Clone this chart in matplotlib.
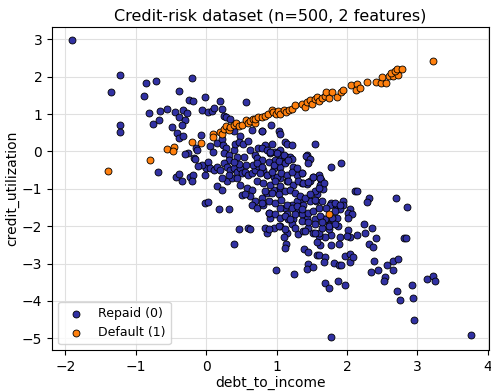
import matplotlib
matplotlib.use("Agg")
import matplotlib.pyplot as plt
import numpy as np

# (debt_to_income, credit_utilization)
repaid_pts = [
    # far left / top
    (-1.91, 2.97), (-1.22, 2.05), (-1.35, 1.59), (-0.86, 1.83), (-0.71, 1.88),
    (-0.89, 1.48), (-0.20, 1.96), (-0.81, 1.02), (-0.66, 1.08), (-0.55, 1.13),
    (-0.75, 0.74), (-0.67, 0.83), (-1.22, 0.72), (-1.22, 0.51), (0.80, 0.55),
    (-0.49, 0.65), (0.27, 0.61), (0.39, 0.56), (0.65, 0.58), (-0.68, -0.56),
    # upper middle
    (-0.38, 1.62), (-0.25, 1.38), (-0.18, 1.36), (-0.02, 1.45), (0.19, 1.36),
    (0.57, 1.31), (-0.44, 1.05), (-0.33, 1.11), (-0.27, 1.02), (-0.06, 1.11),
    (0.02, 1.05), (0.08, 1.09), (0.11, 1.16), (0.22, 1.14), (0.25, 0.96),
    (0.28, 0.92), (0.34, 0.87), (-0.38, 0.92), (-0.30, 0.85), (-0.35, 0.70),
    (-0.41, 0.49), (-0.38, 0.37), (-0.33, 0.41), (-0.08, 0.43), (-0.26, -0.05),
    (-0.14, 0.08), (-0.17, -0.18), (0.06, 0.14), (0.16, 0.23), (0.22, 0.34),
    (0.24, 0.17), (0.28, 0.08), (0.25, -0.05), (0.33, -0.10), (0.39, 0.04),
    (0.41, 0.21), (0.48, 0.41), (0.46, 0.26), (0.53, 0.21), (0.60, 0.28),
    (0.63, 0.04), (0.54, -0.16), (0.44, -0.16), (0.33, -0.23), (0.70, -0.10),
    (0.73, 0.08),
    (0.92, 0.70), (0.79, 0.56), (1.03, 0.56), (1.05, 0.48), (0.93, 0.21),
    (0.84, 0.17), (0.79, 0.08), (0.86, 0.04), (0.91, -0.05), (0.98, -0.01),
    (1.05, 0.04), (1.12, 0.26), (1.15, 0.21), (1.22, 0.17), (1.07, -0.10),
    (1.15, -0.14), (1.17, -0.18), (1.43, -0.10), (1.45, -0.18), (1.54, 0.21),
    (0.72, -0.18), (0.79, -0.23), (0.98, -0.23),
    (-0.30, -0.08), (-0.13, 0.03), (0.10, -0.01), (0.39, -2.48),
    # middle left of the cloud
    (-0.43, -0.67), (-0.38, -0.61), (-0.35, -0.78), (-0.23, -0.67), (-0.19, -0.63),
    (-0.20, -0.80), (-0.01, -0.63), (0.00, -0.45), (-0.06, -0.36), (-0.11, -0.38),
    (-0.16, -0.20), (0.03, -0.27), (0.06, -0.45), (0.11, -0.49), (0.15, -0.41),
    (0.20, -0.49), (0.25, -0.32), (0.29, -0.41), (0.34, -0.49), (0.39, -0.45),
    (0.44, -0.54), (0.48, -0.45), (0.51, -0.58), (0.55, -0.54), (0.60, -0.63),
    (0.65, -0.58), (0.70, -0.49), (0.73, -0.38), (0.67, -0.36), (0.57, -0.36),
    (0.46, -0.34), (0.39, -0.27), (0.15, -0.93), (0.22, -1.02), (0.29, -0.80),
    (0.37, -0.71), (0.44, -0.71), (0.48, -0.89), (0.51, -1.16), (0.58, -0.98),
    (0.65, -1.02), (0.63, -1.20), (0.70, -1.33), (0.65, -1.42), (0.72, -1.51),
    (0.55, -1.14), (-0.01, -1.38), (0.03, -1.35), (0.18, -1.53), (0.33, -1.53),
    (0.46, -2.08), (0.60, -2.04), (0.63, -2.08), (0.22, -0.70), (0.32, -0.63),
    # right part of the cloud and lower tail
    (1.78, -0.41), (1.92, -0.31), (1.42, -0.11), (1.47, -0.19), (1.36, -0.58),
    (1.52, -0.67), (1.61, -0.64), (1.63, -0.76), (1.62, -0.89), (1.66, -1.00),
    (1.57, -1.15), (1.56, -1.33), (1.78, -1.38), (1.83, -1.40), (1.94, -1.33),
    (1.95, -1.44), (1.87, -1.51), (1.90, -1.55), (2.05, -1.55), (2.02, -1.64),
    (2.07, -1.67), (2.01, -1.77), (1.86, -1.77), (1.76, -1.79), (1.67, -1.82),
    (1.55, -1.82), (1.43, -1.77), (2.12, -1.05), (2.15, -1.05), (2.31, -1.24),
    (2.28, -1.35), (2.70, -1.24), (2.86, -1.49), (2.24, -1.93), (2.35, -2.04),
    (2.26, -2.17), (2.14, -2.24), (2.41, -2.32), (2.81, -2.32), (2.84, -2.32),
    (2.02, -2.11), (2.05, -2.30), (1.90, -2.30), (1.78, -2.23), (1.74, -2.08),
    (1.69, -2.30), (1.60, -2.26), (1.62, -2.50), (1.57, -2.43), (1.78, -2.50),
    (1.89, -2.48), (2.32, -2.48), (2.37, -2.55), (1.39, -2.61), (1.45, -2.70),
    (1.57, -2.76), (1.61, -2.76), (1.69, -2.83), (1.68, -2.96), (1.81, -2.99),
    (1.89, -3.03), (1.92, -3.03), (2.04, -2.96), (1.97, -2.79), (2.05, -2.74),
    (2.08, -2.81), (2.38, -2.92), (2.57, -3.03), (2.66, -2.92), (2.72, -2.88),
    (2.66, -3.18), (2.44, -3.17), (2.34, -3.23), (2.54, -3.36), (2.53, -3.47),
    (2.92, -3.58), (3.14, -3.40), (3.23, -3.32), (3.25, -3.47), (2.71, -3.74),
    (2.76, -3.98), (2.94, -3.92), (2.95, -4.51), (3.77, -4.90), (1.77, -4.95),
    (1.69, -3.52), (1.74, -3.64), (1.87, -3.47), (1.97, -3.58), (1.45, -3.01),
    (1.43, -3.14), (1.52, -3.08), (0.99, -3.18), (1.25, -3.27),
    (1.34, -1.29), (1.38, -1.42), (1.31, -1.60), (1.36, -1.66), (1.24, -1.82),
    (1.22, -1.95), (1.15, -2.17), (1.05, -1.99), (0.96, -2.04), (0.86, -2.17),
    (0.84, -2.04), (0.91, -1.77), (0.89, -1.64), (0.81, -1.42), (0.79, -1.24),
    (0.86, -1.11), (0.96, -1.02), (1.05, -0.98), (1.15, -0.80), (1.05, -0.71),
    (0.96, -0.67), (0.86, -0.63), (0.81, -0.49), (0.96, -0.45), (1.05, -0.41),
    (1.12, -0.27), (1.19, -0.14), (1.00, -0.05), (0.91, -0.01), (1.10, -0.10),
    (1.22, -0.19), (1.24, -0.41), (1.29, -0.63), (1.36, -0.85), (1.43, -0.87),
    (1.48, -0.80), (1.55, -1.05), (1.45, -1.24), (1.48, -1.33), (1.29, -1.33),
    (1.22, -1.42), (1.12, -1.51), (1.05, -1.51), (1.15, -1.68), (1.17, -1.82),
    (1.10, -2.30), (1.14, -2.48), (1.12, -2.57), (1.31, -2.21), (1.38, -2.13),
    (1.45, -2.04), (1.52, -2.17), (1.60, -2.17), (1.64, -2.04), (1.74, -1.97),
    (1.88, -1.99), (2.00, -2.26),
    (0.72, -0.32), (0.79, -0.41), (0.89, -0.27), (0.96, -0.36), (1.03, -0.26),
    (1.12, -0.32), (1.17, -0.23), (0.77, -0.58), (0.86, -0.63), (0.93, -0.54),
    (1.00, -0.67), (1.07, -0.58), (1.15, -0.63), (1.22, -0.54), (1.29, -0.45),
    (1.36, -0.58), (1.45, -0.32), (0.72, -0.80), (0.81, -0.85), (0.91, -0.89),
    (0.98, -0.80), (1.05, -0.93), (1.17, -0.80), (1.24, -0.89), (1.31, -0.80),
    (1.38, -0.85), (1.45, -0.82), (1.52, -0.67), (1.62, -0.71), (1.67, -0.85),
    (1.60, -0.98), (0.84, -1.07), (0.93, -1.11), (1.03, -1.15), (1.12, -1.07),
    (1.19, -1.02), (1.26, -1.11), (1.33, -1.20), (1.41, -1.24), (1.48, -1.15),
    (1.55, -1.29), (1.64, -1.33), (1.76, -1.42), (1.83, -1.38), (1.90, -1.42),
    (0.79, -1.38), (0.89, -1.33), (0.98, -1.38), (1.07, -1.29), (1.15, -1.42),
    (1.22, -1.51), (1.29, -1.46), (1.36, -1.55), (1.45, -1.64), (1.52, -1.60),
    (1.60, -1.51), (1.71, -1.51), (1.83, -1.60), (1.79, -1.77), (1.69, -1.82),
    (1.62, -1.73), (0.89, -1.64), (0.98, -1.68), (1.05, -1.77), (1.12, -1.73),
    (1.19, -1.82), (1.26, -1.68), (1.36, -1.86), (1.45, -1.90), (1.55, -1.95),
    (1.64, -1.90), (1.74, -1.99), (1.83, -1.95), (0.89, -2.08), (1.03, -1.99),
    (1.12, -2.08), (1.26, -2.04), (1.41, -2.13), (1.55, -2.17),
]

default_pts = [
    (-1.40, -0.52), (-0.80, -0.22), (-0.55, 0.06), (-0.45, 0.12), (-0.47, 0.01),
    (-0.20, 0.26), (-0.08, 0.23),
    (0.10, 0.48), (0.10, 0.39), (0.20, 0.52), (0.22, 0.46), (0.26, 0.61),
    (0.28, 0.67), (0.32, 0.58), (0.34, 0.65), (0.39, 0.70), (0.43, 0.76),
    (0.46, 0.67), (0.51, 0.72), (0.57, 0.85), (0.59, 0.76), (0.62, 0.81),
    (0.66, 0.87), (0.69, 0.76),
    (0.70, 0.87), (0.74, 0.93), (0.80, 0.92), (0.84, 0.96), (0.88, 0.99),
    (0.93, 1.11), (0.95, 1.05), (0.99, 1.01), (1.02, 1.08), (1.05, 1.01),
    (1.11, 1.10), (1.14, 1.05), (1.18, 1.11), (1.22, 1.14), (1.26, 1.25),
    (1.36, 1.27), (1.40, 1.20), (1.43, 1.32), (1.48, 1.38), (1.51, 1.27),
    (1.54, 1.40), (1.57, 1.45), (1.60, 1.36), (1.64, 1.43), (1.69, 1.49),
    (1.71, 1.58), (1.75, 1.43), (1.79, 1.58), (1.86, 1.46), (1.92, 1.60),
    (1.94, 1.64),
    (2.06, 1.77), (2.14, 1.80), (2.13, 1.64), (2.19, 1.71), (2.28, 1.85),
    (2.41, 1.87), (2.49, 1.82), (2.56, 1.84), (2.50, 1.98), (2.60, 2.01),
    (2.65, 2.01), (2.73, 2.04), (2.62, 2.11), (2.68, 2.15), (2.71, 2.20),
    (2.78, 2.21), (3.23, 2.43),
    (1.74, -1.67),
]

class_labels = ["Repaid (0)", "Default (1)"]
class_colors = ["#3131a3", "#ff800e"]

repaid = np.array(repaid_pts)
default = np.array(default_pts)

fig, ax = plt.subplots(figsize=(4.91, 3.91), dpi=100)
fig.subplots_adjust(left=0.106, right=0.996, top=0.931, bottom=0.104)

for pts, lab, col in zip([repaid, default], class_labels, class_colors):
    ax.scatter(pts[:, 0], pts[:, 1], s=25, c=col, edgecolors="black",
               linewidths=0.6, label=lab, zorder=3)

ax.set_xlim(-2.19, 4.02)
ax.set_ylim(-5.32, 3.33)
ax.grid(True, color="#e0e0e0", linewidth=0.8)
ax.set_axisbelow(True)

ax.set_title("Credit-risk dataset (n=500, 2 features)", fontsize=11.5, pad=5)
ax.set_xlabel("debt_to_income", fontsize=10, labelpad=1)
ax.set_ylabel("credit_utilization", fontsize=10, labelpad=2)
ax.legend(loc="lower left", fontsize=9)

fig.savefig("out.png", dpi=100)
